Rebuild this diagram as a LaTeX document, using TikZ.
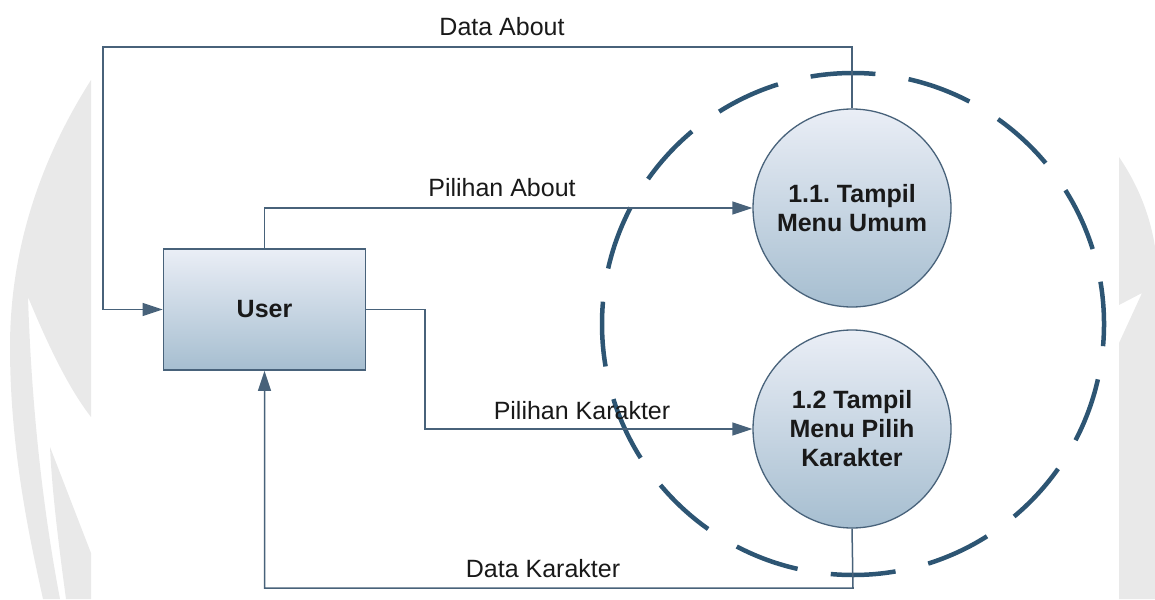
\documentclass[tikz,border=0pt]{standalone}
\usepackage{fontspec}
\setmainfont{Liberation Sans}
\usetikzlibrary{arrows.meta}
\definecolor{linec}{RGB}{72,98,122}
\definecolor{dashc}{RGB}{45,85,115}
\definecolor{fillt}{RGB}{234,238,246}
\definecolor{fillb}{RGB}{166,190,208}
\definecolor{wm}{RGB}{233,233,233}
\definecolor{txt}{RGB}{25,25,25}
\frenchspacing
\begin{document}
\begin{tikzpicture}[x=1pt,y=-1pt,
  proc/.style={circle, draw=linec, line width=1.3pt, top color=fillt, bottom color=fillb,
    minimum size=198pt, inner sep=0pt, align=center, text=txt,
    font=\fontsize{25}{29}\selectfont\bfseries},
  ent/.style={rectangle, draw=linec, line width=1.8pt, top color=fillt, bottom color=fillb,
    minimum width=202pt, minimum height=121pt, text=txt,
    font=\fontsize{25}{29}\selectfont\bfseries},
  flow/.style={draw=linec, line width=1.5pt, -{Triangle[length=20pt,width=13pt]}},
  lbl/.style={font=\fontsize{25}{29}\selectfont, text=txt, inner sep=0pt},
  grp/.style={circle, draw=dashc, line width=4.5pt, dash pattern=on 65pt off 33.6pt,
    dash phase=22.5pt, minimum size=502pt, inner sep=0pt}
]
\useasboundingbox (0,0) rectangle (1155,599);
% faint watermark at the edges
\fill[wm] (91,80) .. controls (40,160) and (10,250) .. (10,347)
  .. controls (10,450) and (30,540) .. (43,599) -- (60,599)
  .. controls (45,520) and (32,420) .. (28,297)
  .. controls (50,350) and (70,390) .. (91,417) -- cycle;
\fill[wm] (50,447) -- (91,553) -- (91,599) -- (66,599) .. controls (58,540) and (52,490) .. cycle;
\fill[wm] (1119,157) .. controls (1138,185) and (1150,215) .. (1155,247) -- (1155,599)
  -- (1119,599) -- (1119,343) -- (1142,293) -- (1119,305) -- cycle;

% group boundary
\node[grp] (grp) at (853,324) {};

% nodes
\node[ent] (user) at (264.5,309.5) {User};
\node[proc] (p1) at (852,208) {1.1. Tampil\\Menu Umum};
\node[proc] (p2) at (852,429) {1.2 Tampil\\Menu Pilih\\Karakter};

% routing points
\coordinate (da) at (103,47);
\coordinate (pk) at (425,380);
\coordinate (dk) at (853,588);

% flows
\draw[flow] (p1.north) |- (da) |- (user.west);
\draw[flow] (user.north) |- (p1.west);
\draw[flow] (user.east) -| (pk) |- (p2.west);
\draw[flow] (p2.south) -- (dk) -| (user.south);

% labels
\node[lbl] (lda) at (502,26.5) {Data About};
\node[lbl] (lpa) at (502,188) {Pilihan About};
\node[lbl] (lpk) at (582,411) {Pilihan Karakter};
\node[lbl] (ldk) at (543,568.5) {Data Karakter};
\end{tikzpicture}
\end{document}
